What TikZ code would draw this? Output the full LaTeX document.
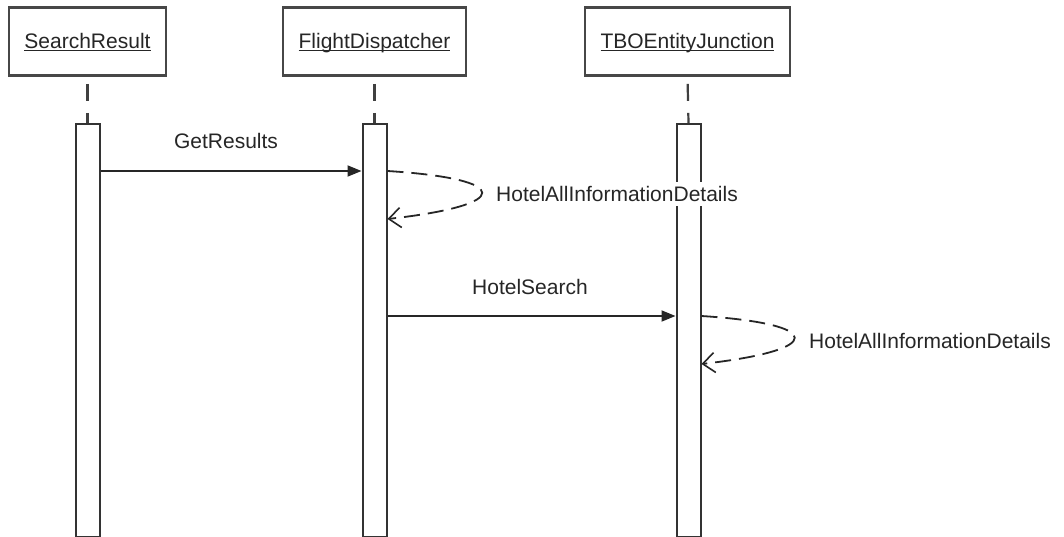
\documentclass[tikz,border=0pt]{standalone}
\usepackage{fontspec}
\setmainfont{Liberation Sans}
\usetikzlibrary{arrows.meta,calc}
\newcommand\objname[1]{\underline{\smash{#1}}}
\begin{document}
\begin{tikzpicture}[x=1pt,y=-1pt,
  objbox/.style={draw=black!72,line width=2.6pt,fill=white,minimum height=68pt,inner sep=0pt,
    text height=15pt,text depth=0pt,font=\fontsize{21}{25}\selectfont,text=black!85},
  actbar/.style={draw=black!80,line width=2pt,fill=white,minimum width=24pt,minimum height=413pt,
    inner sep=0pt,anchor=north},
  lifeline/.style={draw=black!75,line width=2.2pt,dash pattern=on 17pt off 12pt,dash phase=-7pt},
  msg/.style={draw=black!85,line width=1.8pt,-{Triangle[length=14pt,width=11pt]}},
  selfmsg/.style={draw=black!85,line width=1.8pt,dash pattern=on 16pt off 8pt,
    -{Straight Barb[length=12pt,width=20pt,line width=1.6pt]}},
  lbl/.style={font=\fontsize{21}{25}\selectfont,text=black!85,inner sep=0pt},
  bglbl/.style={lbl,fill=white,inner xsep=0pt,inner ysep=4pt}]
\useasboundingbox (0,0) rectangle (1064,537);
\fill[white] (0,0) rectangle (1064,537);
% objects
\node[objbox,minimum width=157pt] (box1) at (87.5,41.5) {\objname{SearchResult}};
\node[objbox,minimum width=183pt] (box2) at (374.5,41.5) {\objname{FlightDispatcher}};
\node[objbox,minimum width=205pt] (box3) at (687.5,41.5) {\objname{TBOEntityJunction}};
% activation bars
\node[actbar] (bar1) at (87.5,123) {};
\node[actbar] (bar2) at (374.5,123) {};
\node[actbar] (bar3) at (688.5,123) {};
% lifelines
\draw[lifeline] (box1.south) -- (bar1.north);
\draw[lifeline] (box2.south) -- (bar2.north);
\draw[lifeline] (box3.south) -- (bar3.north);
% message rows
\coordinate (r1) at (0,171);
\coordinate (r1e) at (0,219);
\coordinate (r2) at (0,316);
\coordinate (r2e) at (0,364);
% GetResults
\draw[msg] (bar1.east |- r1) -- (bar2.west |- r1);
\node[lbl] (l1) at (226,141) {GetResults};
% self message 1
\coordinate (s1) at (bar2.east |- r1);
\coordinate (e1) at (bar2.east |- r1e);
\draw[selfmsg] (s1) .. controls ($(s1)+(126,8)$) and ($(e1)+(126,-14)$) .. (e1);
\node[bglbl,anchor=west] (l2) at (496,194) {HotelAllInformationDetails};
% HotelSearch
\draw[msg] (bar2.east |- r2) -- (bar3.west |- r2);
\node[lbl] (l3) at (530,287) {HotelSearch};
% self message 2
\coordinate (s2) at (bar3.east |- r2);
\coordinate (e2) at (bar3.east |- r2e);
\draw[selfmsg] (s2) .. controls ($(s2)+(124,8)$) and ($(e2)+(124,-14)$) .. (e2);
\node[lbl,anchor=west] (l4) at (809,341) {HotelAllInformationDetails};
\end{tikzpicture}
\end{document}
